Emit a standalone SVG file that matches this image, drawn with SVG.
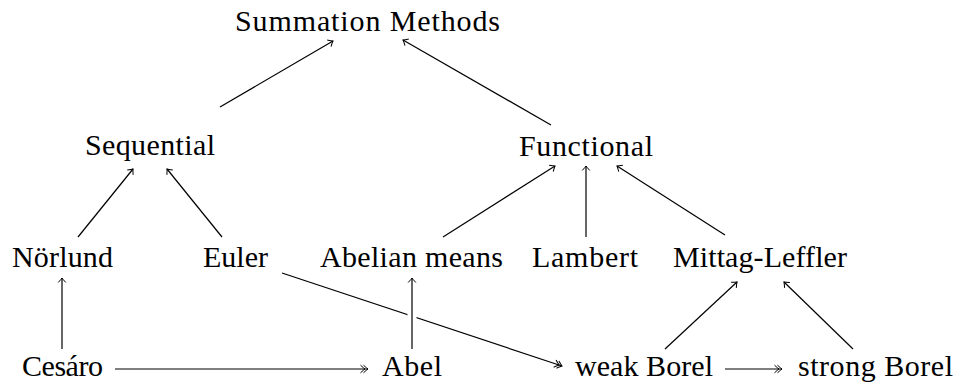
<svg xmlns="http://www.w3.org/2000/svg" width="956" height="383" viewBox="0 0 956 383">
<style>
text{font-family:"Liberation Serif","DejaVu Serif",serif;font-size:30px;fill:#000}
.e{stroke:#000;stroke-width:1.2;fill:none}
.s{marker-end:url(#to)}
.d{marker-end:url(#tt)}
.halo{stroke:#fff;stroke-width:9;fill:none}
</style>
<defs>
<marker id="to" markerUnits="userSpaceOnUse" viewBox="-8 -5 10 10" markerWidth="10" markerHeight="10" refX="0" refY="0" orient="auto" overflow="visible">
<path d="M-4.5,-3.8 Q-1,-0.6 0,0 Q-1,0.6 -4.5,3.8" fill="none" stroke="#000" stroke-width="1"/>
</marker>
<marker id="tt" markerUnits="userSpaceOnUse" viewBox="-10 -5 12 10" markerWidth="12" markerHeight="10" refX="0" refY="0" orient="auto" overflow="visible">
<path d="M-4.5,-3.8 Q-1,-0.6 0,0 Q-1,0.6 -4.5,3.8 M-7.5,-3.8 Q-4,-0.6 -3,0 Q-4,0.6 -7.5,3.8" fill="none" stroke="#000" stroke-width="1"/>
</marker>
</defs>
<g id="connectors">
<line class="e s" x1="220" y1="107" x2="333" y2="41"/>
<line class="e s" x1="551" y1="125" x2="403" y2="40"/>
<line class="e s" x1="78" y1="237" x2="133" y2="169"/>
<line class="e s" x1="222" y1="237" x2="167" y2="169"/>
<line class="e s" x1="443" y1="237" x2="555" y2="166"/>
<line class="e s" x1="586" y1="237" x2="586" y2="166"/>
<line class="e s" x1="725" y1="235" x2="617" y2="166"/>
<line class="e s" x1="62" y1="349" x2="62" y2="278"/>
<line class="e d" x1="115" y1="369" x2="368" y2="369"/>
<line class="e d" x1="282" y1="273" x2="562" y2="366"/>
<line class="halo" x1="412" y1="340" x2="412" y2="290"/>
<line class="e s" x1="412" y1="349" x2="412" y2="278"/>
<line class="e s" x1="665" y1="349" x2="737" y2="282"/>
<line class="e s" x1="853" y1="349" x2="784" y2="282"/>
<line class="e d" x1="725" y1="369" x2="782" y2="369"/>
</g>
<g id="n-summation"><text x="235" y="31" textLength="265">Summation Methods</text></g>
<g id="n-sequential"><text x="85" y="155" textLength="130">Sequential</text></g>
<g id="n-functional"><text x="519" y="156" textLength="134">Functional</text></g>
<g id="n-norlund"><text x="12" y="267" textLength="101">Nörlund</text></g>
<g id="n-euler"><text x="203" y="267" textLength="65">Euler</text></g>
<g id="n-abelian"><text x="320" y="267" textLength="183">Abelian means</text></g>
<g id="n-lambert"><text x="532" y="267" textLength="106">Lambert</text></g>
<g id="n-mittag"><text x="673" y="267" textLength="174">Mittag-Leffler</text></g>
<g id="n-cesaro"><text x="22" y="376" textLength="81">Cesáro</text></g>
<g id="n-abel"><text x="382" y="376" textLength="60">Abel</text></g>
<g id="n-weakborel"><text x="575" y="376" textLength="138">weak Borel</text></g>
<g id="n-strongborel"><text x="798" y="376" textLength="155">strong Borel</text></g>
</svg>
